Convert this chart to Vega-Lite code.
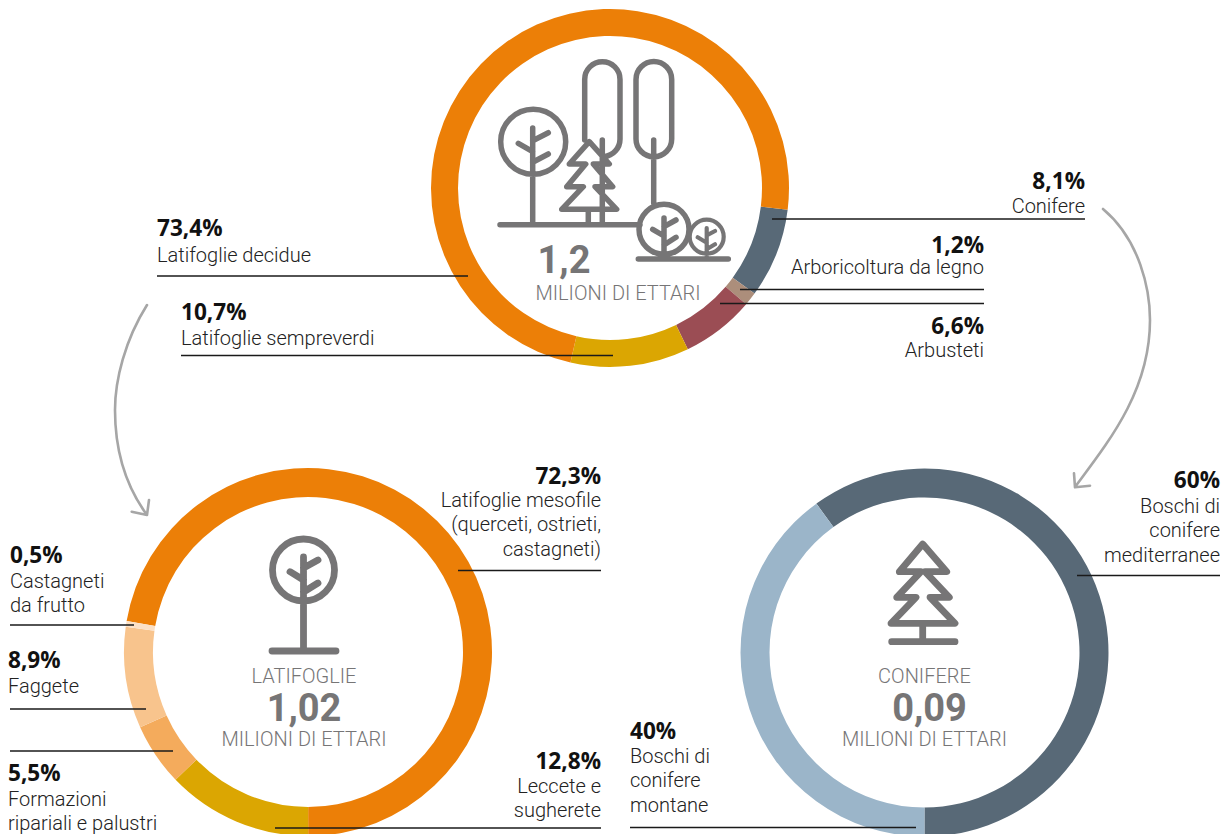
{"$schema":"https://vega.github.io/schema/vega-lite/v6.json","width":1229,"height":834,"padding":0,"autosize":{"type":"none"},"background":"white",
"config":{"view":{"stroke":null},"axis":{"disable":true},"rule":{"color":"#1a1a1a","strokeWidth":1.3},
"style":{"pct":{"font":"Open Sans","fontWeight":700,"fontSize":22.6,"color":"#111111","baseline":"alphabetic"},"lab":{"font":"Roboto","fontWeight":300,"fontSize":20,"color":"#222222","lineBreak":"\n","lineHeight":24.3,"baseline":"alphabetic"},"big":{"font":"Roboto","fontWeight":700,"fontSize":38,"color":"#767576","align":"center","baseline":"alphabetic"},"unit":{"font":"Roboto","fontWeight":300,"fontSize":20,"color":"#767576","align":"center","baseline":"alphabetic"}}},
"datasets":{"slices":[
{"group":"Totale","category":"Conifere","label":"Conifere","value":8.1,"pct":"8,1%","seq":1},
{"group":"Totale","category":"Arboricoltura da legno","label":"Arboricoltura da legno","value":1.2,"pct":"1,2%","seq":2},
{"group":"Totale","category":"Arbusteti","label":"Arbusteti","value":6.6,"pct":"6,6%","seq":3},
{"group":"Totale","category":"Latifoglie sempreverdi","label":"Latifoglie sempreverdi","value":10.7,"pct":"10,7%","seq":4},
{"group":"Totale","category":"Latifoglie decidue","label":"Latifoglie decidue","value":73.4,"pct":"73,4%","seq":5},
{"group":"Latifoglie","category":"Latifoglie mesofile","label":"Latifoglie mesofile\n(querceti, ostrieti,\ncastagneti)","value":72.3,"pct":"72,3%","seq":1},
{"group":"Latifoglie","category":"Leccete e sugherete","label":"Leccete e\nsugherete","value":12.8,"pct":"12,8%","seq":2},
{"group":"Latifoglie","category":"Formazioni ripariali e palustri","label":"Formazioni\nripariali e palustri","value":5.5,"pct":"5,5%","seq":3},
{"group":"Latifoglie","category":"Faggete","label":"Faggete","value":8.9,"pct":"8,9%","seq":4},
{"group":"Latifoglie","category":"Castagneti da frutto","label":"Castagneti\nda frutto","value":0.5,"pct":"0,5%","seq":5},
{"group":"Conifere","category":"Boschi di conifere mediterranee","label":"Boschi di\nconifere\nmediterranee","value":60,"pct":"60%","seq":1},
{"group":"Conifere","category":"Boschi di conifere montane","label":"Boschi di\nconifere\nmontane","value":40,"pct":"40%","seq":2}],
"totals":[{"group":"Totale","title":"","total":"1,2","unit":"MILIONI DI ETTARI"},{"group":"Latifoglie","title":"LATIFOGLIE","total":"1,02","unit":"MILIONI DI ETTARI"},{"group":"Conifere","title":"CONIFERE","total":"0,09","unit":"MILIONI DI ETTARI"}]},
"data":{"name":"slices"},
"resolve":{"scale":{"theta":"independent"}},
"layer":[
{"transform":[{"filter":"datum.group==='Totale'"}],"mark":{"type":"arc","radius":179,"radius2":152},"encoding":{"x":{"datum":610,"scale":{"domain":[0,1229],"range":[0,1229],"nice":false,"zero":false}},"y":{"datum":188,"scale":{"domain":[0,834],"range":[0,834],"nice":false,"zero":false}},"theta":{"field":"value","type":"quantitative","scale":{"domain":[0,100],"range":[1.693,7.976]}},"order":{"field":"seq"},"color":{"field":"category","legend":null,"scale":{"domain":["Conifere","Arboricoltura da legno","Arbusteti","Latifoglie sempreverdi","Latifoglie decidue","Latifoglie mesofile","Leccete e sugherete","Formazioni ripariali e palustri","Faggete","Castagneti da frutto","Boschi di conifere mediterranee","Boschi di conifere montane"],"range":["#586977","#AC8E7B","#9B4D54","#DBA602","#EC7F07","#EC7F07","#DBA602","#F4AB5C","#F8C48D","#FCE1C6","#586977","#9BB5C9"]}}}},
{"transform":[{"filter":"datum.group==='Latifoglie'"}],"mark":{"type":"arc","radius":184,"radius2":155},"encoding":{"x":{"datum":308},"y":{"datum":652},"theta":{"field":"value","type":"quantitative","scale":{"domain":[0,100],"range":[-1.402,4.881]}},"order":{"field":"seq"},"color":{"field":"category","legend":null}}},
{"transform":[{"filter":"datum.group==='Conifere'"}],"mark":{"type":"arc","radius":184,"radius2":155},"encoding":{"x":{"datum":924.5},"y":{"datum":652.5},"theta":{"field":"value","type":"quantitative","scale":{"domain":[0,100],"range":[-0.628,5.655]}},"order":{"field":"seq"},"color":{"field":"category","legend":null}}},

{"data":{"name":"totals"},"transform":[{"filter":"datum.group==='Totale'"}],"mark":{"type":"point","filled":false,"opacity":1,"size":4,"stroke":"#767576","strokeWidth":5.5,"strokeCap":"round","strokeJoin":"round","shape":"M500,224.7L640,224.7M565.7,141.7a32.5,32.5 0 1,0 -65,0a32.5,32.5 0 1,0 65,0M532.7,128L532.7,224.7M518.3,143.3L532.7,151.7M548.3,132.7L532.7,140.7M548.3,154L532.7,162.3M584.7,140L584.7,79.4A17.65,17.65 0 0,1 620,79.4L620,139A17.65,17.65 0 0,1 604,156.7M602.3,140L602.3,224.7M636,79.4A17.85,17.85 0 0,1 671.7,79.4L671.7,138.9A17.85,17.85 0 0,1 636,138.9ZM653.7,140L653.7,203M589.3,141.7L609.3,164L593.3,164L612.7,186.7L595,186.7L616.7,209.3L561.7,209.3L583.3,186.7L566.7,186.7L585.7,164L569.3,164ZM588.3,209.3L588.3,224.7M689,229.3a25,25 0 1,0 -50,0a25,25 0 1,0 50,0M664,218L664,256.7M652.7,229.3L664,236M676,220L664,226.7M676,237.3L664,245M638.3,259L728.3,259"},"encoding":{"x":{"datum":0},"y":{"datum":0}}},
{"data":{"name":"totals"},"transform":[{"filter":"datum.group==='Totale'"}],"mark":{"type":"point","filled":false,"opacity":1,"size":4,"stroke":"#767576","strokeWidth":4.2,"strokeCap":"round","strokeJoin":"round","shape":"M723.7,236.7a17,17 0 1,0 -34,0a17,17 0 1,0 34,0M706.7,228L706.7,256.7M697.7,237.3L706.7,242.7M715,231L706.7,235.3M715,244.3L706.7,249.3"},"encoding":{"x":{"datum":0},"y":{"datum":0}}},
{"data":{"name":"totals"},"transform":[{"filter":"datum.group==='Latifoglie'"}],"mark":{"type":"point","filled":false,"opacity":1,"size":4,"stroke":"#767576","strokeWidth":6.8,"strokeCap":"round","strokeJoin":"round","shape":"M334.5,570a31,31 0 1,0 -62,0a31,31 0 1,0 62,0M303.5,557L303.5,651M272,651L336,651M290,571.7L303.5,580M318,560L303.5,568M318,583L303.5,592"},"encoding":{"x":{"datum":0},"y":{"datum":0}}},
{"data":{"name":"totals"},"transform":[{"filter":"datum.group==='Conifere'"}],"mark":{"type":"point","filled":false,"opacity":1,"size":4,"stroke":"#767576","strokeWidth":6.8,"strokeCap":"round","strokeJoin":"round","shape":"M922.7,544L946.7,571.7L925,571.7L949.3,597.3L930,597.3L955,623.3L891,623.3L916,597.3L896.7,597.3L921,571.7L899.3,571.7ZM922.7,623.3L922.7,641.7M891.7,641.7L955,641.7"},"encoding":{"x":{"datum":0},"y":{"datum":0}}},
{"data":{"name":"totals"},"transform":[{"filter":"datum.group==='Totale'"}],"mark":{"type":"point","filled":false,"opacity":1,"size":4,"stroke":"#A6A6A6","strokeWidth":2.6,"strokeCap":"round","strokeJoin":"round","shape":"M1103,209C1140,240 1150,290 1150,320C1150,390 1110,440 1075,487M1074,473.3L1075,487.3L1090,485.7M147,305C125,340 115,380 115,410C115,450 125,485 147,515M149,500L147,515L131.7,511.7"},"encoding":{"x":{"datum":0},"y":{"datum":0}}},

{"data":{"name":"totals"},"transform":[{"filter":"datum.group==='Totale'"}],"mark":{"type":"text","style":"big"},"encoding":{"x":{"datum":564},"y":{"datum":273},"text":{"field":"total"}}},
{"data":{"name":"totals"},"transform":[{"filter":"datum.group==='Totale'"}],"mark":{"type":"text","style":"unit"},"encoding":{"x":{"datum":618},"y":{"datum":300},"text":{"field":"unit"}}},
{"data":{"name":"totals"},"transform":[{"filter":"datum.group==='Latifoglie'"}],"mark":{"type":"text","style":"unit"},"encoding":{"x":{"datum":304},"y":{"datum":683},"text":{"field":"title"}}},
{"data":{"name":"totals"},"transform":[{"filter":"datum.group==='Latifoglie'"}],"mark":{"type":"text","style":"big"},"encoding":{"x":{"datum":304},"y":{"datum":721},"text":{"field":"total"}}},
{"data":{"name":"totals"},"transform":[{"filter":"datum.group==='Latifoglie'"}],"mark":{"type":"text","style":"unit"},"encoding":{"x":{"datum":304},"y":{"datum":746},"text":{"field":"unit"}}},
{"data":{"name":"totals"},"transform":[{"filter":"datum.group==='Conifere'"}],"mark":{"type":"text","style":"unit"},"encoding":{"x":{"datum":924.5},"y":{"datum":683},"text":{"field":"title"}}},
{"data":{"name":"totals"},"transform":[{"filter":"datum.group==='Conifere'"}],"mark":{"type":"text","style":"big"},"encoding":{"x":{"datum":929.5},"y":{"datum":721},"text":{"field":"total"}}},
{"data":{"name":"totals"},"transform":[{"filter":"datum.group==='Conifere'"}],"mark":{"type":"text","style":"unit"},"encoding":{"x":{"datum":924.5},"y":{"datum":746},"text":{"field":"unit"}}},

{"transform":[{"filter":"datum.category==='Latifoglie decidue'"}],"mark":{"type":"rule"},"encoding":{"x":{"datum":157},"x2":{"datum":468},"y":{"datum":276}}},
{"transform":[{"filter":"datum.category==='Latifoglie decidue'"}],"mark":{"type":"text","style":"pct","align":"left"},"encoding":{"x":{"datum":157},"y":{"datum":236},"text":{"field":"pct"}}},
{"transform":[{"filter":"datum.category==='Latifoglie decidue'"}],"mark":{"type":"text","style":"lab","align":"left"},"encoding":{"x":{"datum":157},"y":{"datum":262},"text":{"field":"label"}}},
{"transform":[{"filter":"datum.category==='Latifoglie sempreverdi'"}],"mark":{"type":"rule"},"encoding":{"x":{"datum":181},"x2":{"datum":613},"y":{"datum":355.5}}},
{"transform":[{"filter":"datum.category==='Latifoglie sempreverdi'"}],"mark":{"type":"text","style":"pct","align":"left"},"encoding":{"x":{"datum":181},"y":{"datum":320},"text":{"field":"pct"}}},
{"transform":[{"filter":"datum.category==='Latifoglie sempreverdi'"}],"mark":{"type":"text","style":"lab","align":"left"},"encoding":{"x":{"datum":181},"y":{"datum":345},"text":{"field":"label"}}},
{"transform":[{"filter":"datum.category==='Conifere'"}],"mark":{"type":"rule"},"encoding":{"x":{"datum":772},"x2":{"datum":1085},"y":{"datum":219}}},
{"transform":[{"filter":"datum.category==='Conifere'"}],"mark":{"type":"text","style":"pct","align":"right"},"encoding":{"x":{"datum":1085},"y":{"datum":189},"text":{"field":"pct"}}},
{"transform":[{"filter":"datum.category==='Conifere'"}],"mark":{"type":"text","style":"lab","align":"right"},"encoding":{"x":{"datum":1085},"y":{"datum":213},"text":{"field":"label"}}},
{"transform":[{"filter":"datum.category==='Arboricoltura da legno'"}],"mark":{"type":"rule"},"encoding":{"x":{"datum":740},"x2":{"datum":984},"y":{"datum":289.5}}},
{"transform":[{"filter":"datum.category==='Arboricoltura da legno'"}],"mark":{"type":"text","style":"pct","align":"right"},"encoding":{"x":{"datum":984},"y":{"datum":253},"text":{"field":"pct"}}},
{"transform":[{"filter":"datum.category==='Arboricoltura da legno'"}],"mark":{"type":"text","style":"lab","align":"right"},"encoding":{"x":{"datum":984},"y":{"datum":274},"text":{"field":"label"}}},
{"transform":[{"filter":"datum.category==='Arbusteti'"}],"mark":{"type":"rule"},"encoding":{"x":{"datum":720},"x2":{"datum":984},"y":{"datum":303.5}}},
{"transform":[{"filter":"datum.category==='Arbusteti'"}],"mark":{"type":"text","style":"pct","align":"right"},"encoding":{"x":{"datum":984},"y":{"datum":334},"text":{"field":"pct"}}},
{"transform":[{"filter":"datum.category==='Arbusteti'"}],"mark":{"type":"text","style":"lab","align":"right"},"encoding":{"x":{"datum":984},"y":{"datum":357},"text":{"field":"label"}}},
{"transform":[{"filter":"datum.category==='Latifoglie mesofile'"}],"mark":{"type":"rule"},"encoding":{"x":{"datum":458},"x2":{"datum":601},"y":{"datum":570.5}}},
{"transform":[{"filter":"datum.category==='Latifoglie mesofile'"}],"mark":{"type":"text","style":"pct","align":"right"},"encoding":{"x":{"datum":601},"y":{"datum":484},"text":{"field":"pct"}}},
{"transform":[{"filter":"datum.category==='Latifoglie mesofile'"}],"mark":{"type":"text","style":"lab","align":"right"},"encoding":{"x":{"datum":601},"y":{"datum":507},"text":{"field":"label"}}},
{"transform":[{"filter":"datum.category==='Boschi di conifere mediterranee'"}],"mark":{"type":"rule"},"encoding":{"x":{"datum":1077},"x2":{"datum":1220},"y":{"datum":575.5}}},
{"transform":[{"filter":"datum.category==='Boschi di conifere mediterranee'"}],"mark":{"type":"text","style":"pct","align":"right"},"encoding":{"x":{"datum":1220},"y":{"datum":488},"text":{"field":"pct"}}},
{"transform":[{"filter":"datum.category==='Boschi di conifere mediterranee'"}],"mark":{"type":"text","style":"lab","align":"right"},"encoding":{"x":{"datum":1220},"y":{"datum":513},"text":{"field":"label"}}},
{"transform":[{"filter":"datum.category==='Leccete e sugherete'"}],"mark":{"type":"rule"},"encoding":{"x":{"datum":275},"x2":{"datum":601},"y":{"datum":828}}},
{"transform":[{"filter":"datum.category==='Leccete e sugherete'"}],"mark":{"type":"text","style":"pct","align":"right"},"encoding":{"x":{"datum":601},"y":{"datum":769},"text":{"field":"pct"}}},
{"transform":[{"filter":"datum.category==='Leccete e sugherete'"}],"mark":{"type":"text","style":"lab","align":"right"},"encoding":{"x":{"datum":601},"y":{"datum":793},"text":{"field":"label"}}},
{"transform":[{"filter":"datum.category==='Boschi di conifere montane'"}],"mark":{"type":"rule"},"encoding":{"x":{"datum":630},"x2":{"datum":916},"y":{"datum":827.5}}},
{"transform":[{"filter":"datum.category==='Boschi di conifere montane'"}],"mark":{"type":"text","style":"pct","align":"left"},"encoding":{"x":{"datum":630},"y":{"datum":739},"text":{"field":"pct"}}},
{"transform":[{"filter":"datum.category==='Boschi di conifere montane'"}],"mark":{"type":"text","style":"lab","align":"left"},"encoding":{"x":{"datum":630},"y":{"datum":763},"text":{"field":"label"}}},
{"transform":[{"filter":"datum.category==='Castagneti da frutto'"}],"mark":{"type":"rule"},"encoding":{"x":{"datum":10},"x2":{"datum":134},"y":{"datum":625}}},
{"transform":[{"filter":"datum.category==='Castagneti da frutto'"}],"mark":{"type":"text","style":"pct","align":"left"},"encoding":{"x":{"datum":10},"y":{"datum":563},"text":{"field":"pct"}}},
{"transform":[{"filter":"datum.category==='Castagneti da frutto'"}],"mark":{"type":"text","style":"lab","align":"left"},"encoding":{"x":{"datum":10},"y":{"datum":588},"text":{"field":"label"}}},
{"transform":[{"filter":"datum.category==='Faggete'"}],"mark":{"type":"rule"},"encoding":{"x":{"datum":10},"x2":{"datum":146},"y":{"datum":709}}},
{"transform":[{"filter":"datum.category==='Faggete'"}],"mark":{"type":"text","style":"pct","align":"left"},"encoding":{"x":{"datum":8},"y":{"datum":668},"text":{"field":"pct"}}},
{"transform":[{"filter":"datum.category==='Faggete'"}],"mark":{"type":"text","style":"lab","align":"left"},"encoding":{"x":{"datum":8},"y":{"datum":693},"text":{"field":"label"}}},
{"transform":[{"filter":"datum.category==='Formazioni ripariali e palustri'"}],"mark":{"type":"rule"},"encoding":{"x":{"datum":10},"x2":{"datum":173},"y":{"datum":751}}},
{"transform":[{"filter":"datum.category==='Formazioni ripariali e palustri'"}],"mark":{"type":"text","style":"pct","align":"left"},"encoding":{"x":{"datum":8},"y":{"datum":781},"text":{"field":"pct"}}},
{"transform":[{"filter":"datum.category==='Formazioni ripariali e palustri'"}],"mark":{"type":"text","style":"lab","align":"left"},"encoding":{"x":{"datum":8},"y":{"datum":806},"text":{"field":"label"}}}
]}
